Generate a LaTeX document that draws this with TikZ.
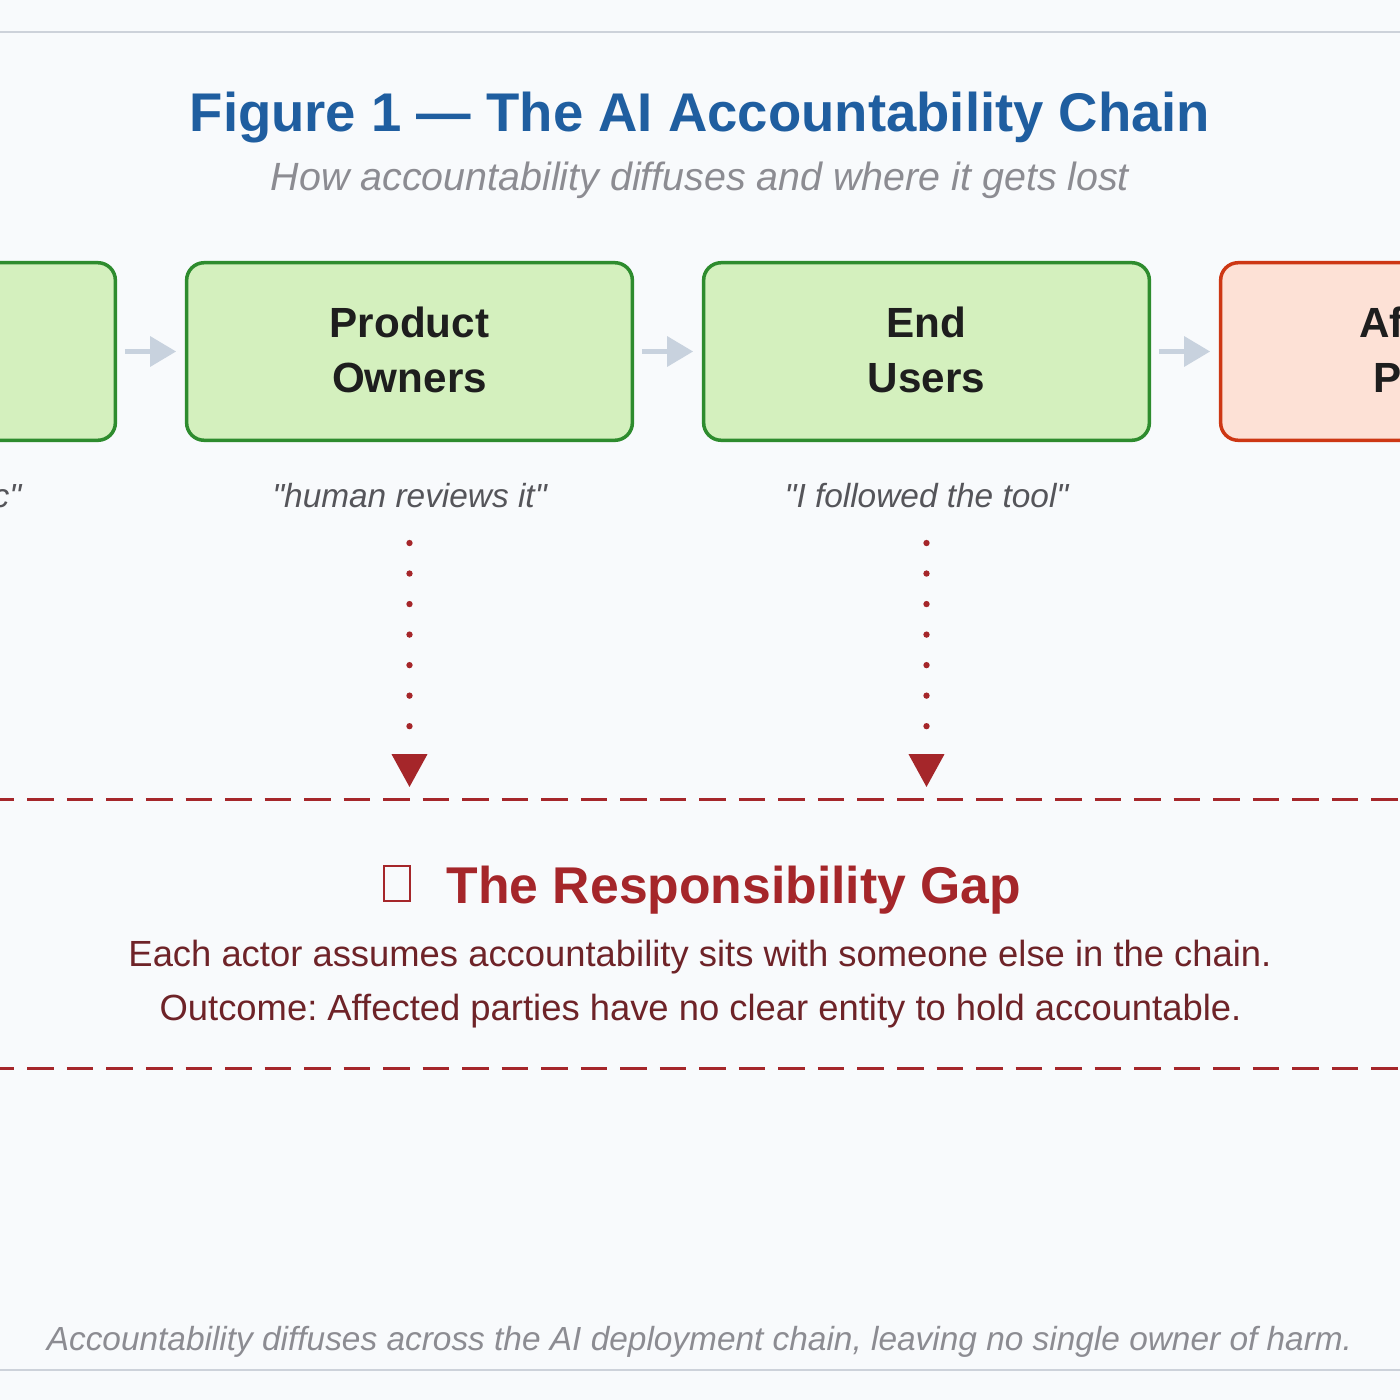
\documentclass[tikz,border=0pt]{standalone}
\usepackage{fontspec}
\setmainfont{Liberation Sans}
\usetikzlibrary{arrows.meta}
\definecolor{bg}{RGB}{248,250,252}
\definecolor{rulegray}{RGB}{205,210,218}
\definecolor{titleblue}{RGB}{31,94,160}
\definecolor{subgray}{RGB}{140,140,146}
\definecolor{txt}{RGB}{30,30,30}
\definecolor{quotegray}{RGB}{85,85,90}
\definecolor{greenfill}{RGB}{212,240,190}
\definecolor{greenline}{RGB}{46,140,46}
\definecolor{redfill}{RGB}{253,225,214}
\definecolor{redline}{RGB}{205,55,20}
\definecolor{flowgray}{RGB}{200,210,222}
\definecolor{gapred}{RGB}{165,38,42}
\definecolor{bodyred}{RGB}{110,35,40}
\newcommand{\qq}{\textquotedbl}
\begin{document}
\frenchspacing
\begin{tikzpicture}[x=0.01cm,y=-0.01cm,
  rulestyle/.style={draw=rulegray, line width=0.6pt},
  actor/.style={rounded corners=5pt, line width=1pt, minimum width=4.455cm, minimum height=1.775cm,
    inner sep=0pt, align=center, font=\fontsize{12}{15.6}\selectfont\bfseries, text=txt},
  okbox/.style={actor, draw=greenline, fill=greenfill},
  harmbox/.style={actor, draw=redline, fill=redfill},
  flow/.style={draw=flowgray, line width=1.15pt, -{Triangle[length=7.4pt,width=8.5pt]},
    shorten <=2.2pt, shorten >=2.5pt},
  quotetext/.style={font=\fontsize{9.5}{11}\selectfont\itshape, text=quotegray, inner sep=0pt},
  dotarrow/.style={draw=gapred, line width=1.8pt, line cap=round, dash pattern=on 0pt off 8.68pt,
    -{Triangle[length=9.4pt,width=9.7pt,line cap=butt]}, shorten >=3.4pt},
  gapdash/.style={draw=gapred, line width=0.85pt, dash pattern=on 7.54pt off 3.7pt, dash phase=3.13pt},
  gapzone/.style={minimum width=14cm, minimum height=2.68cm, inner sep=0pt},
  gaptitle/.style={font=\fontsize{14.7}{17}\selectfont\bfseries, text=gapred, inner sep=0pt},
  bodytext/.style={font=\fontsize{10.35}{12}\selectfont, text=bodyred, inner sep=0pt},
  tofu/.style={draw=gapred, line width=0.6pt, minimum width=0.26cm, minimum height=0.35cm, inner sep=0pt}
]
\useasboundingbox (0,0) rectangle (1400,1400);
\clip (0,0) rectangle (1400,1400);
\fill[bg] (0,0) rectangle (1400,1400);
\draw[rulestyle] (0,32) -- (1400,32);
\draw[rulestyle] (0,1370) -- (1400,1370);

% titles
\node[anchor=base, inner sep=0pt, font=\fontsize{15.5}{18}\selectfont\bfseries, text=titleblue] (title) at (700,132) {Figure 1 — The AI Accountability Chain};
\node[anchor=base, inner sep=0pt, font=\fontsize{11.2}{13}\selectfont\itshape, text=subgray] (subtitle) at (700,191) {How accountability diffuses and where it gets lost};

% actor boxes
\node[okbox] (dev) at (-107.5,351.5) {};
\node[okbox] (po) at (409.5,351.5) {\raisebox{1pt}{Product}\\\raisebox{1pt}{Owners}};
\node[okbox] (eu) at (926.5,351.5) {\raisebox{1pt}{End}\\\raisebox{1pt}{Users}};
\node[harmbox] (ap) at (1443.5,351.5) {\raisebox{1pt}{Affected}\\\raisebox{1pt}{Parties}};

\draw[flow] (dev) -- (po);
\draw[flow] (po) -- (eu);
\draw[flow] (eu) -- (ap);

% quotes
\node[quotetext, anchor=base east] (q1) at (22,507) {\qq the model is generic\qq};
\node[quotetext, anchor=base] (q2) at (409.5,507) {\qq human reviews it\qq};
\node[quotetext, anchor=base] (q3) at (926.5,507) {\qq I followed the tool\qq};

% gap zone
\node[gapzone] (gap) at (700,934) {};
\draw[gapdash] (gap.north west) -- (gap.north east);
\draw[gapdash] (gap.south west) -- (gap.south east);

\draw[dotarrow] ([yshift=-0.36cm]q2.base) -- (q2.base |- gap.north);
\draw[dotarrow] ([yshift=-0.36cm]q3.base) -- (q3.base |- gap.north);

\node[tofu] (icon) at (397,883.5) {};
\node[gaptitle, anchor=base west] (gaptitle) at (446,903) {The Responsibility Gap};
\node[bodytext, anchor=base] (body1) at (700,966) {Each actor assumes accountability sits with someone else in the chain.};
\node[bodytext, anchor=base] (body2) at (700.5,1020) {Outcome: Affected parties have no clear entity to hold accountable.};

% footer
\node[anchor=base, inner sep=0pt, font=\fontsize{9.5}{11}\selectfont\itshape, text=subgray] (footer) at (699.5,1350) {Accountability diffuses across the AI deployment chain, leaving no single owner of harm.};
\end{tikzpicture}
\end{document}
